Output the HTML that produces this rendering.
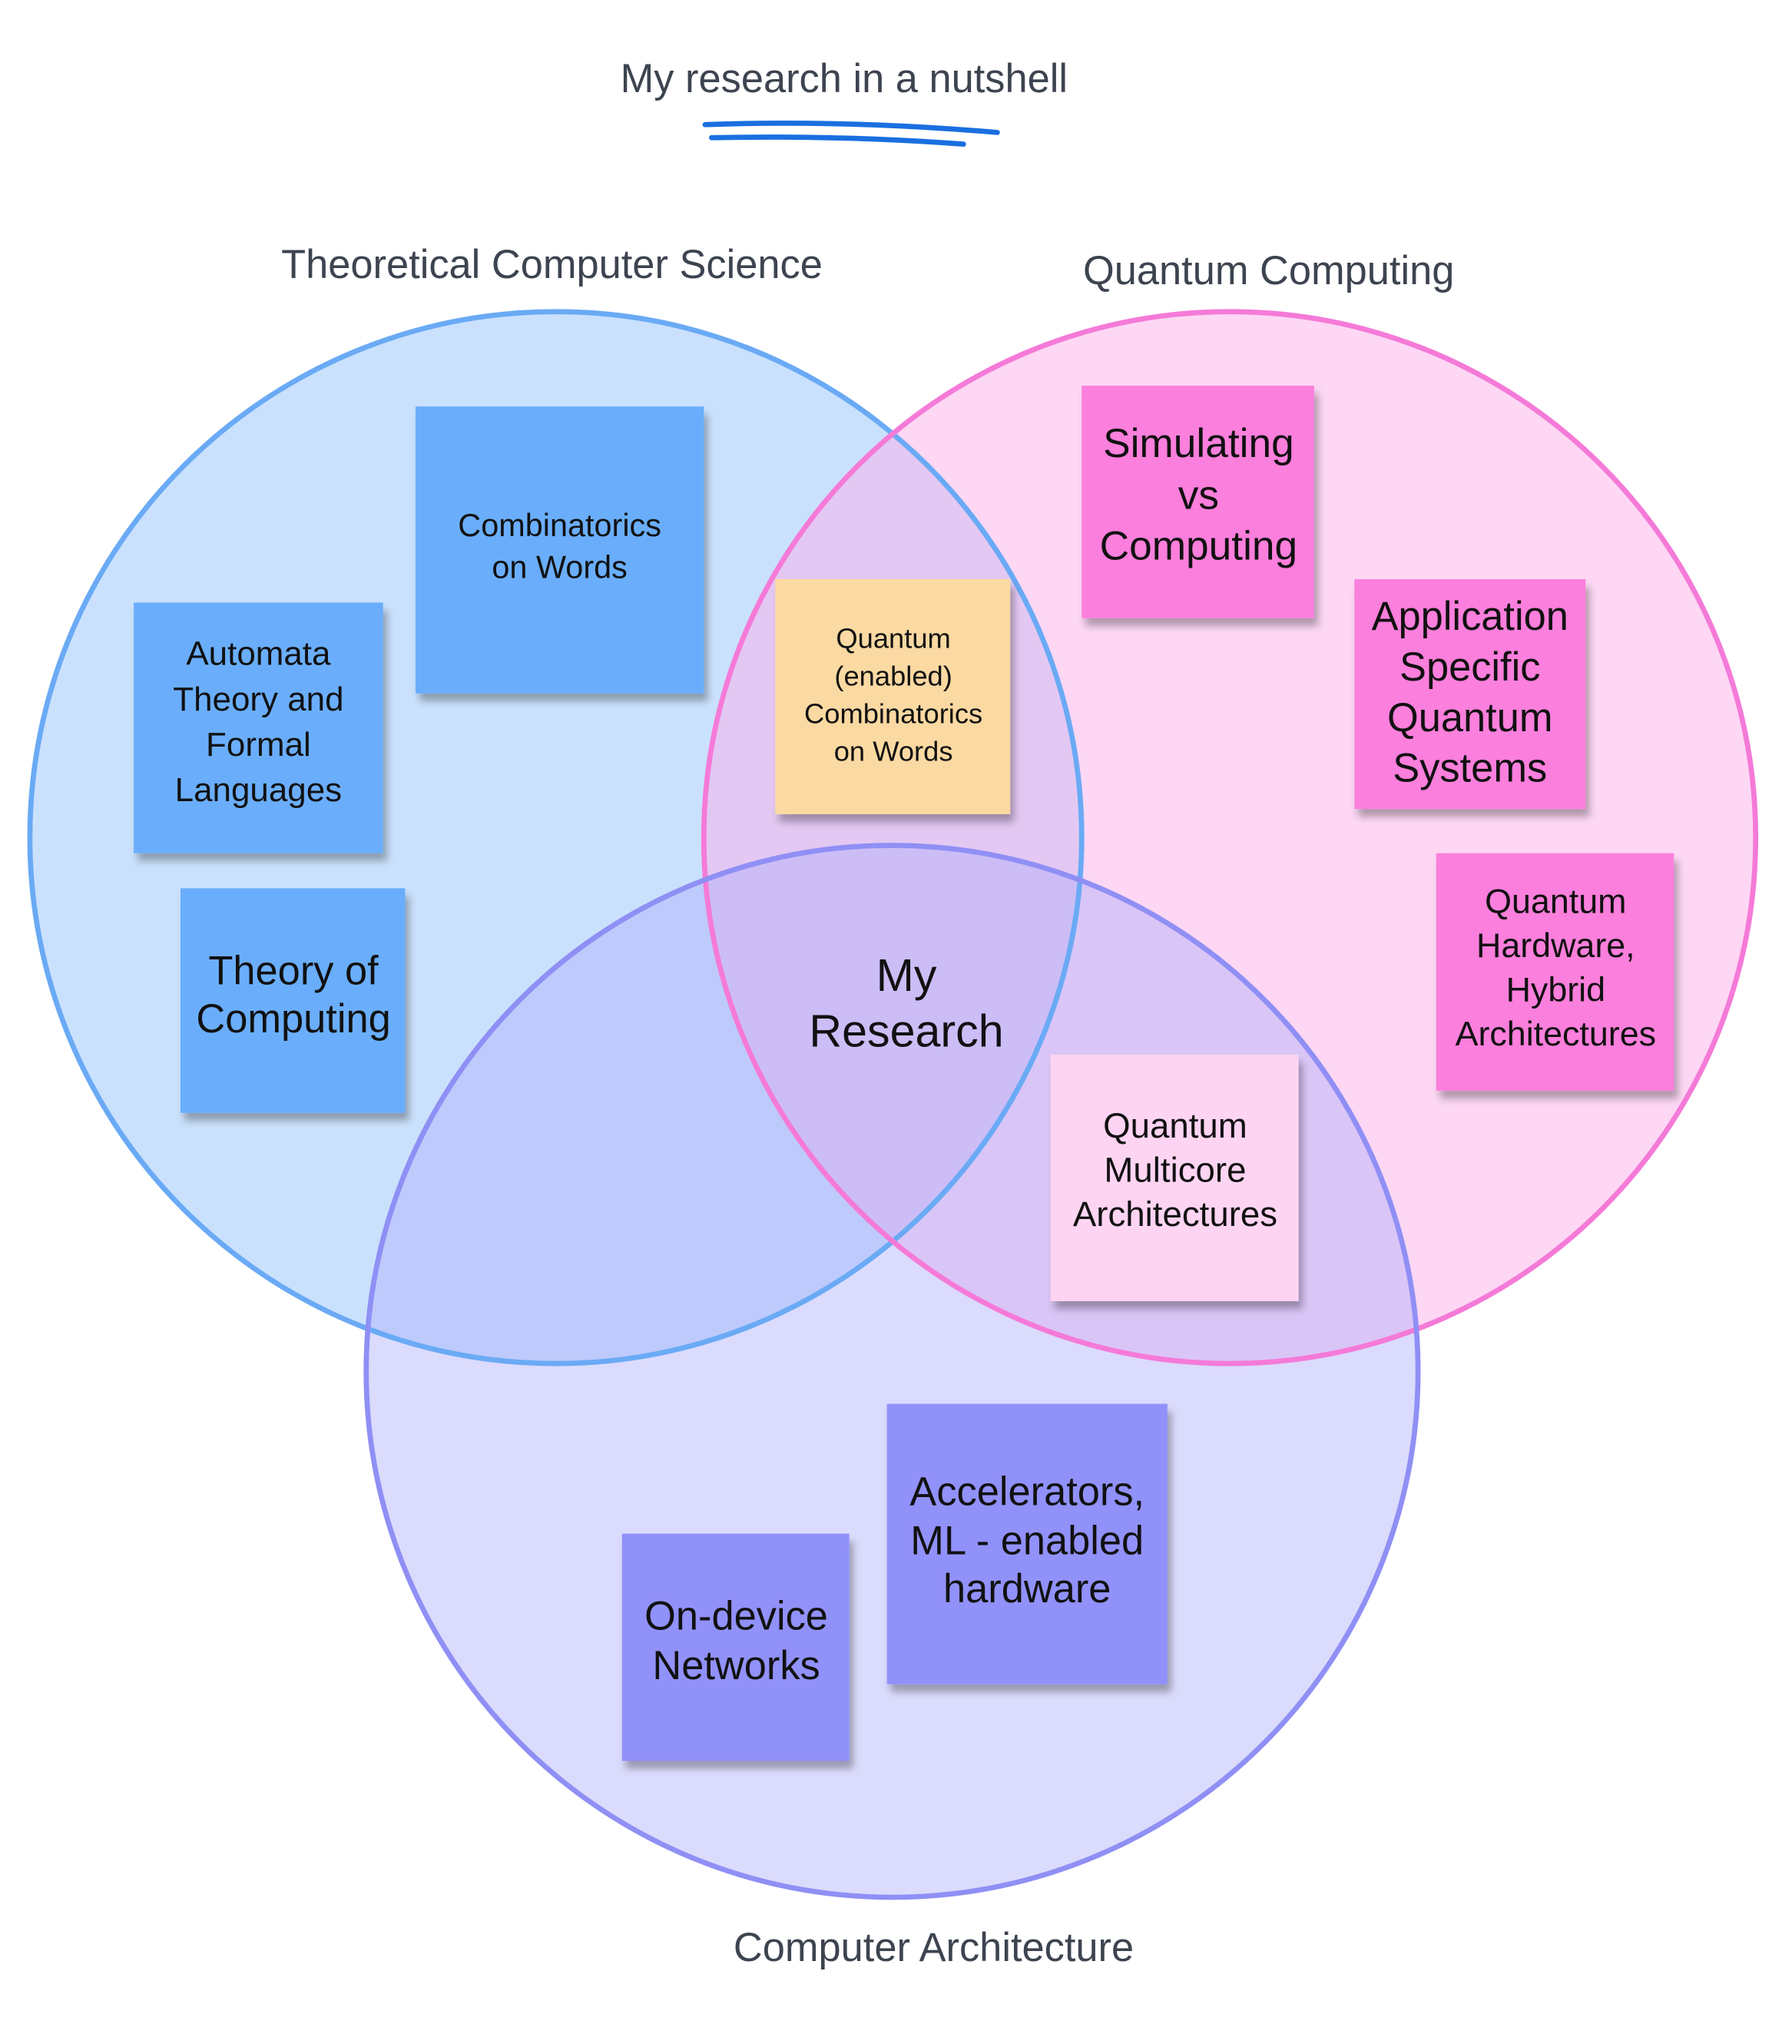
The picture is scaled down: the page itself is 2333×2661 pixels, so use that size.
<!DOCTYPE html>
<html><head><meta charset="utf-8"><style>html,body{margin:0;padding:0;background:#fff}svg{display:block}text{font-family:"Liberation Sans",sans-serif}</style></head>
<body>
<svg width="2333" height="2661" viewBox="0 0 1380 1574" preserveAspectRatio="none" xmlns="http://www.w3.org/2000/svg">
<defs><filter id="sh" x="-10%" y="-10%" width="130%" height="130%"><feDropShadow dx="3" dy="6" stdDeviation="3" flood-color="#000" flood-opacity="0.3"/></filter></defs>
<rect width="1380" height="1574" fill="#fff"/>
<text x="650" y="71" font-size="31" fill="#3d4450" text-anchor="middle">My research in a nutshell</text>
<path d="M543 96 Q650 92 768 102" stroke="#1a6fe0" stroke-width="4" fill="none" stroke-linecap="round"/>
<path d="M548 106 Q650 104 742 111" stroke="#1a6fe0" stroke-width="4" fill="none" stroke-linecap="round"/>
<text x="425" y="214" font-size="31" fill="#3d4450" text-anchor="middle">Theoretical Computer Science</text>
<text x="977" y="219" font-size="31" fill="#3d4450" text-anchor="middle">Quantum Computing</text>
<text x="719" y="1510" font-size="31" fill="#3d4450" text-anchor="middle">Computer Architecture</text>

<circle cx="428" cy="645" r="405" fill="#9ec8fb" fill-opacity="0.55"/>
<circle cx="947" cy="645" r="405" fill="#fcb0ea" fill-opacity="0.5"/>
<circle cx="687" cy="1056" r="405" fill="#b0b0fa" fill-opacity="0.45"/>
<circle cx="428" cy="645" r="405" fill="none" stroke="#6aaaf5" stroke-width="4"/>
<circle cx="947" cy="645" r="405" fill="none" stroke="#f57ad8" stroke-width="4"/>
<circle cx="687" cy="1056" r="405" fill="none" stroke="#8f8ff5" stroke-width="4"/>

<g filter="url(#sh)">
<rect x="320" y="313" width="222" height="221" fill="#6aaefb"/>
<rect x="103" y="464" width="192" height="193" fill="#6aaefb"/>
<rect x="139" y="684" width="173" height="173" fill="#6aaefb"/>
<rect x="597" y="446" width="181" height="181" fill="#fbd9a2"/>
<rect x="833" y="297" width="179" height="179" fill="#fb7fdc"/>
<rect x="1043" y="446" width="178" height="177" fill="#fb7fdc"/>
<rect x="1106" y="657" width="183" height="183" fill="#fb7fdc"/>
<rect x="809" y="812" width="191" height="190" fill="#fdd4f2"/>
<rect x="683" y="1081" width="216" height="216" fill="#9191fa"/>
<rect x="479" y="1181" width="175" height="175" fill="#9191fa"/>
</g>

<g fill="#111" text-anchor="middle">
<text x="431" y="413" font-size="24.5">Combinatorics</text>
<text x="431" y="445" font-size="24.5">on Words</text>
<text x="199" y="512" font-size="26">Automata</text>
<text x="199" y="547" font-size="26">Theory and</text>
<text x="199" y="582" font-size="26">Formal</text>
<text x="199" y="617" font-size="26">Languages</text>
<text x="226" y="758" font-size="31">Theory of</text>
<text x="226" y="795" font-size="31">Computing</text>
<text x="688" y="499" font-size="21.5">Quantum</text>
<text x="688" y="528" font-size="21.5">(enabled)</text>
<text x="688" y="557" font-size="21.5">Combinatorics</text>
<text x="688" y="586" font-size="21.5">on Words</text>
<text x="923" y="352" font-size="31.5">Simulating</text>
<text x="923" y="392" font-size="31.5">vs</text>
<text x="923" y="431" font-size="31.5">Computing</text>
<text x="1132" y="485" font-size="31">Application</text>
<text x="1132" y="524" font-size="31">Specific</text>
<text x="1132" y="563" font-size="31">Quantum</text>
<text x="1132" y="602" font-size="31">Systems</text>
<text x="1198" y="703" font-size="26.5">Quantum</text>
<text x="1198" y="737" font-size="26.5">Hardware,</text>
<text x="1198" y="771" font-size="26.5">Hybrid</text>
<text x="1198" y="805" font-size="26.5">Architectures</text>
<text x="905" y="876" font-size="27">Quantum</text>
<text x="905" y="910" font-size="27">Multicore</text>
<text x="905" y="944" font-size="27">Architectures</text>
<text x="791" y="1159" font-size="31">Accelerators,</text>
<text x="791" y="1197" font-size="31">ML - enabled</text>
<text x="791" y="1234" font-size="31">hardware</text>
<text x="567" y="1255" font-size="31">On-device</text>
<text x="567" y="1293" font-size="31">Networks</text>
<text x="698" y="763" font-size="35">My</text>
<text x="698" y="806" font-size="35">Research</text>
</g>
</svg>
</body></html>
